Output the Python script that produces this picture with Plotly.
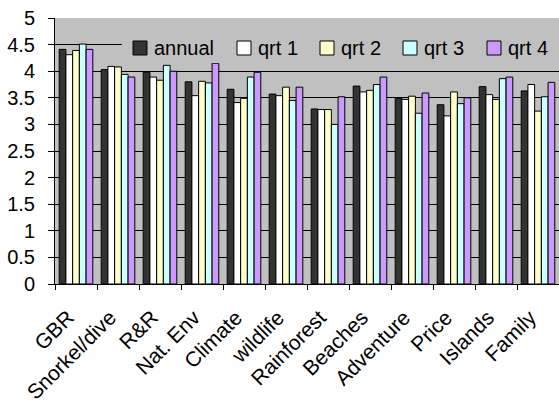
import plotly.graph_objects as go

categories = ["GBR", "Snorkel/dive", "R&R", "Nat. Env", "Climate", "wildlife",
              "Rainforest", "Beaches", "Adventure", "Price", "Islands", "Family"]

annual = [4.41, 4.03, 3.98, 3.80, 3.66, 3.57, 3.29, 3.72, 3.49, 3.37, 3.71, 3.63]
qrt1   = [4.31, 4.09, 3.89, 3.54, 3.41, 3.54, 3.28, 3.61, 3.47, 3.16, 3.56, 3.75]
qrt2   = [4.39, 4.08, 3.83, 3.81, 3.49, 3.70, 3.28, 3.64, 3.53, 3.61, 3.47, 3.25]
qrt3   = [4.51, 3.94, 4.11, 3.78, 3.89, 3.45, 3.00, 3.75, 3.21, 3.39, 3.86, 3.52]
qrt4   = [4.41, 3.89, 4.00, 4.15, 3.98, 3.70, 3.52, 3.89, 3.59, 3.50, 3.89, 3.79]

series = [("annual", annual, "#333333"),
          ("qrt 1", qrt1, "#FFFFFF"),
          ("qrt 2", qrt2, "#FFFFCC"),
          ("qrt 3", qrt3, "#CCFFFF"),
          ("qrt 4", qrt4, "#CC99FF")]

# page / plot-area geometry in pixels
W, H = 559, 403
ML, MR, MT, MB = 55, 0, 18, 119
PW, PH = W - ML - MR, H - MT - MB


def px_x(px):
    return (px - ML) / PW


def px_y(py):
    return (H - MB - py) / PH


fig = go.Figure()
for name, vals, color in series:
    fig.add_trace(go.Bar(
        x=categories, y=vals, name=name,
        marker=dict(color=color, line=dict(color="#000000", width=1)),
    ))

# horizontal key laid over the top of the plot area
key_left = [133, 237, 320, 403, 487]
shapes = [dict(type="rect", xref="paper", yref="paper",
               x0=px_x(122), x1=1.05, y0=px_y(63), y1=px_y(33),
               fillcolor="#C0C0C0", line=dict(width=0), layer="above")]
annotations = []
for (name, _, color), left in zip(series, key_left):
    shapes.append(dict(type="rect", xref="paper", yref="paper",
                       x0=px_x(left), x1=px_x(left + 14),
                       y0=px_y(55), y1=px_y(41),
                       fillcolor=color, line=dict(color="#000000", width=1),
                       layer="above"))
    annotations.append(dict(xref="paper", yref="paper",
                            x=px_x(left + 19), y=px_y(48),
                            xanchor="left", yanchor="middle",
                            text=name, showarrow=False,
                            font=dict(size=20, color="#000000")))

fig.update_layout(
    width=W, height=H,
    margin=dict(l=ML, r=MR, t=MT, b=MB),
    paper_bgcolor="#FFFFFF",
    plot_bgcolor="#C0C0C0",
    barmode="group",
    bargap=0.2,
    bargroupgap=0,
    font=dict(family="Liberation Sans, Arial, sans-serif", color="#000000"),
    showlegend=False,
    shapes=shapes,
    annotations=annotations,
)

fig.update_yaxes(
    range=[0, 5], dtick=0.5,
    showgrid=True, gridcolor="#000000", gridwidth=1,
    showline=True, linecolor="#000000", linewidth=1,
    ticks="outside", ticklen=6, tickcolor="#000000",
    tickfont=dict(size=20),
    ticklabelstandoff=9,
    zeroline=False,
)
fig.update_xaxes(
    type="category",
    showline=True, linecolor="#000000", linewidth=1,
    ticks="outside", ticklen=5, tickcolor="#000000",
    tickson="boundaries",
    tickangle=-45,
    tickfont=dict(size=21),
    ticklabelstandoff=12,
    ticklabelshift=-8,
    showgrid=False,
)

fig.write_html("out.html")
